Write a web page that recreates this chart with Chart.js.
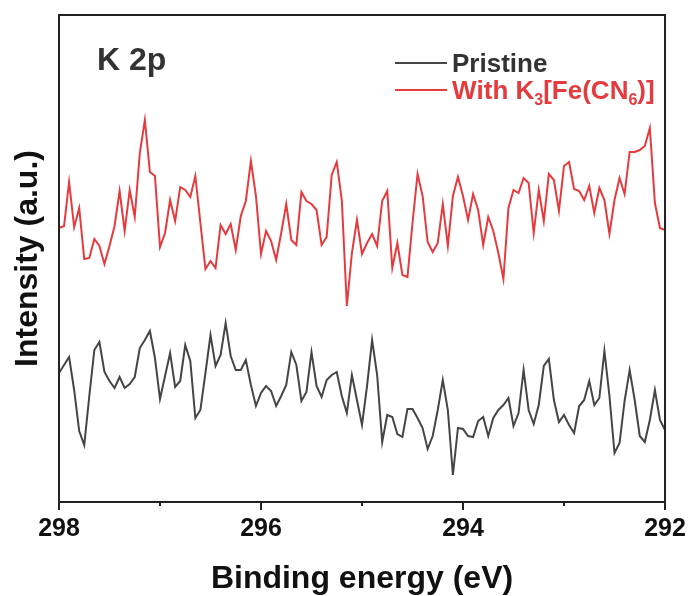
<!DOCTYPE html>
<html>
<head>
<meta charset="utf-8">
<script src="https://cdn.jsdelivr.net/npm/chart.js@4/dist/chart.umd.min.js"></script>
<style>
  html, body { margin: 0; padding: 0; background: #fff; }
</style>
</head>
<body>
<canvas id="myChart" width="690" height="596"></canvas>
<script>
// binding energy grid (eV), 0.05 eV steps
const energy = [
    298, 297.95, 297.9, 297.85, 297.8, 297.75, 297.7, 297.65, 297.6, 297.55,
    297.5, 297.45, 297.4, 297.35, 297.3, 297.25, 297.2, 297.15, 297.1, 297.05,
    297, 296.95, 296.9, 296.85, 296.8, 296.75, 296.7, 296.65, 296.6, 296.55,
    296.5, 296.45, 296.4, 296.35, 296.3, 296.25, 296.2, 296.15, 296.1, 296.05,
    296, 295.95, 295.9, 295.85, 295.8, 295.75, 295.7, 295.65, 295.6, 295.55,
    295.5, 295.45, 295.4, 295.35, 295.3, 295.25, 295.2, 295.15, 295.1, 295.05,
    295, 294.95, 294.9, 294.85, 294.8, 294.75, 294.7, 294.65, 294.6, 294.55,
    294.5, 294.45, 294.4, 294.35, 294.3, 294.25, 294.2, 294.15, 294.1, 294.05,
    294, 293.95, 293.9, 293.85, 293.8, 293.75, 293.7, 293.65, 293.6, 293.55,
    293.5, 293.45, 293.4, 293.35, 293.3, 293.25, 293.2, 293.15, 293.1, 293.05,
    293, 292.95, 292.9, 292.85, 292.8, 292.75, 292.7, 292.65, 292.6, 292.55,
    292.5, 292.45, 292.4, 292.35, 292.3, 292.25, 292.2, 292.15, 292.1, 292.05,
    292
];

const pristine = [
    129, 137, 145, 112, 71, 57, 106, 152, 160, 130,
    121, 114, 125, 114, 118, 125, 154, 162, 171, 144,
    103, 126, 149, 115, 121, 157, 141, 84, 92, 129,
    167, 136, 147, 179, 146, 132, 132, 142, 117, 96,
    109, 116, 111, 96, 106, 117, 150, 137, 101, 110,
    150, 116, 105, 122, 127, 130, 106, 89, 127, 102,
    77, 116, 162, 127, 60, 87, 85, 68, 65, 93,
    93, 84, 74, 53, 66, 92, 122, 92, 27, 74,
    73, 66, 65, 81, 85, 66, 84, 92, 97, 104,
    76, 89, 132, 92, 78, 97, 136, 143, 102, 80,
    87, 77, 69, 96, 102, 121, 97, 104, 151, 106,
    49, 59, 101, 132, 102, 66, 60, 82, 112, 82,
    72
];

const withFe = [
    274, 276, 320, 275, 294, 243, 244, 263, 256, 238,
    256, 276, 311, 271, 312, 285, 349, 382, 330, 326,
    255, 269, 302, 281, 315, 312, 305, 326, 279, 233,
    241, 234, 277, 268, 278, 252, 286, 301, 341, 306,
    248, 271, 261, 242, 269, 298, 262, 257, 310, 301,
    298, 292, 257, 265, 327, 340, 302, 196, 249, 282,
    248, 259, 268, 256, 301, 311, 234, 259, 227, 225,
    279, 328, 306, 260, 250, 259, 298, 256, 306, 325,
    306, 282, 308, 292, 257, 285, 271, 249, 223, 294,
    312, 309, 324, 319, 269, 312, 281, 328, 322, 291,
    336, 340, 313, 311, 302, 316, 289, 314, 302, 268,
    302, 324, 308, 350, 350, 352, 356, 374, 299, 274,
    272
];

const seriesNames = ['Pristine', 'With K₃[Fe(CN₆)]'];
const xTicks = [298, 296, 294, 292];
const minorTicks = [297, 295, 293];
const panelLabel = 'K 2p';

const FAMILY = '"Liberation Sans", Arial, Helvetica, sans-serif';
Chart.defaults.font.family = FAMILY;

// draws text, turning unicode subscript digits into small lowered digits
function drawRich(ctx, text, x, y, size) {
    const subs = '₀₁₂₃₄₅₆₇₈₉';
    let cx = x;
    for (const ch of text) {
        const k = subs.indexOf(ch);
        if (k >= 0) {
            ctx.font = 'bold ' + Math.round(size * 0.62) + 'px ' + FAMILY;
            ctx.fillText(String(k), cx, y + size * 0.22);
            cx += ctx.measureText(String(k)).width;
        } else {
            ctx.font = 'bold ' + size + 'px ' + FAMILY;
            ctx.fillText(ch, cx, y);
            cx += ctx.measureText(ch).width;
        }
    }
}

const decor = {
    id: 'decor',
    afterDatasetsDraw(chart) {
        const {ctx, chartArea: a} = chart;
        const x = chart.scales.x;
        ctx.save();
        // frame
        ctx.strokeStyle = '#222';
        ctx.lineWidth = 2;
        ctx.strokeRect(a.left, a.top, a.right - a.left, a.bottom - a.top);
        // minor ticks
        minorTicks.forEach(v => {
            const px = x.getPixelForValue(v);
            ctx.beginPath();
            ctx.moveTo(px, a.bottom);
            ctx.lineTo(px, a.bottom + 4);
            ctx.stroke();
        });
        // panel label
        ctx.fillStyle = '#333';
        ctx.textBaseline = 'alphabetic';
        ctx.font = 'bold 32px ' + FAMILY;
        ctx.fillText(panelLabel, 97, 70);
        // legend
        const rows = [{line: 63, base: 72}, {line: 90, base: 99}];
        chart.data.datasets.forEach((ds, i) => {
            ctx.strokeStyle = ds.borderColor;
            ctx.lineWidth = 2;
            ctx.beginPath();
            ctx.moveTo(395, rows[i].line);
            ctx.lineTo(447, rows[i].line);
            ctx.stroke();
            ctx.fillStyle = ds.textColor;
            drawRich(ctx, ds.label, 452, rows[i].base, 26);
        });
        ctx.restore();
    }
};

const data = {
    datasets: [
        {
            label: seriesNames[0],
            borderColor: '#454545',
            textColor: '#333',
            data: energy.map((e, i) => ({x: e, y: pristine[i]})),
        },
        {
            label: seriesNames[1],
            borderColor: '#e63b3e',
            textColor: '#e63b3e',
            data: energy.map((e, i) => ({x: e, y: withFe[i]})),
        }
    ]
};

const config = {
    type: 'line',
    data: data,
    options: {
        responsive: false,
        animation: false,
        devicePixelRatio: 1,
        layout: {
            padding: {top: 15, right: 25, left: 0, bottom: 0}
        },
        elements: {
            line: {borderWidth: 2, tension: 0},
            point: {radius: 0}
        },
        plugins: {
            legend: {display: false},
            tooltip: {enabled: false}
        },
        scales: {
            x: {
                type: 'linear',
                reverse: true,
                min: 292,
                max: 298,
                afterBuildTicks: s => { s.ticks = xTicks.map(v => ({value: v})); },
                afterFit: s => { s.height = 94; },
                grid: {
                    drawOnChartArea: false,
                    drawTicks: true,
                    tickLength: 8,
                    color: '#222',
                    lineWidth: 2
                },
                border: {display: false},
                ticks: {
                    color: '#111',
                    padding: 4,
                    maxRotation: 0,
                    font: {size: 25, weight: 'bold'}
                },
                title: {
                    display: true,
                    text: 'Binding energy (eV)',
                    color: '#111',
                    padding: {top: 0, bottom: -2},
                    font: {size: 32, weight: 'bold'}
                }
            },
            y: {
                min: 0,
                max: 487,
                afterFit: s => { s.width = 59; },
                grid: {display: false},
                border: {display: false},
                ticks: {display: false},
                title: {
                    display: true,
                    text: 'Intensity (a.u.)',
                    color: '#111',
                    padding: {top: 9, bottom: 0},
                    font: {size: 32, weight: 'bold'}
                }
            }
        }
    },
    plugins: [decor]
};

const myChart = new Chart(document.getElementById('myChart'), config);
</script>
</body>
</html>
